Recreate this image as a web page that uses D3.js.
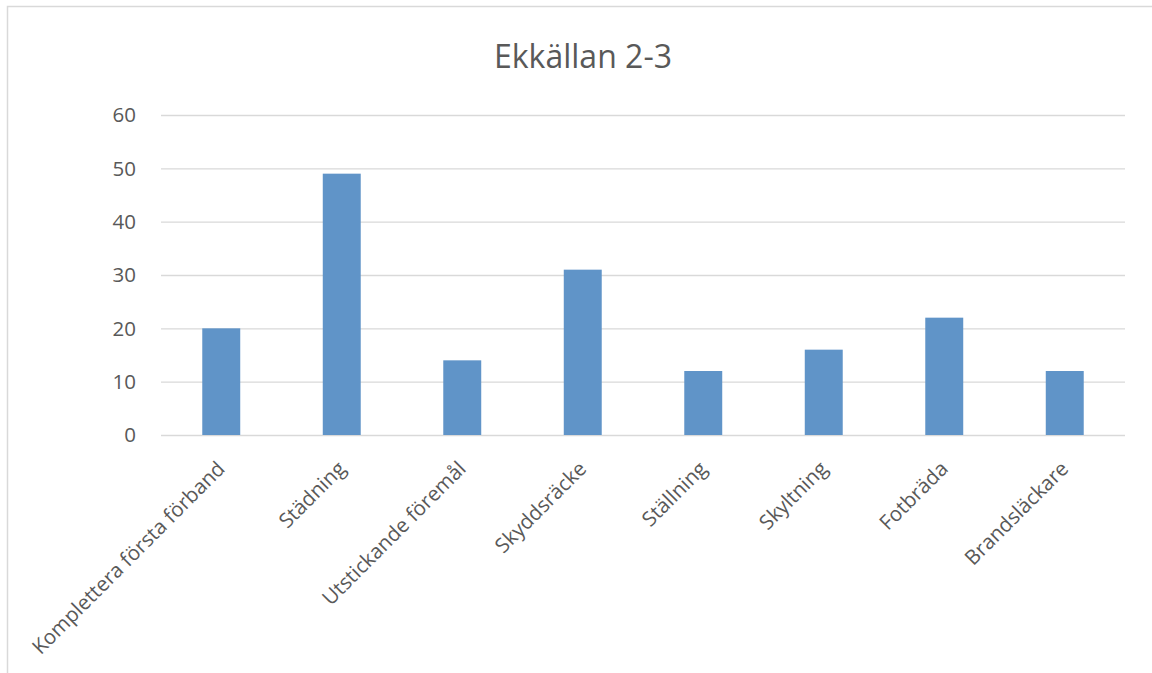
<!DOCTYPE html>
<html><head><meta charset="utf-8">
<script src="https://cdn.jsdelivr.net/npm/d3@7"></script>
<style>body{margin:0;background:#fff;} svg{display:block;font-family:"Open Sans",sans-serif;}</style>
</head><body>
<svg id="c" width="1152" height="673"></svg>
<script>
const title = "Ekkällan 2-3";
const categories = ["Komplettera första förband","Städning","Utstickande föremål","Skyddsräcke","Ställning","Skyltning","Fotbräda","Brandsläckare"];
const values = [20,49,14,31,12,16,22,12];
const yTicks = [0,10,20,30,40,50,60];

const svg = d3.select("#c");
svg.append("rect").attr("x",7.5).attr("y",6.5).attr("width",1170).attr("height",700)
  .attr("fill","#fff").attr("stroke","#d9d9d9").attr("stroke-width",1.5);

const x = d3.scaleBand().domain(categories).range([161,1125]);
const y = d3.scaleLinear().domain([0,60]).range([435,115]);

svg.append("text").attr("x",583).attr("y",68).attr("text-anchor","middle")
  .attr("font-size",32).attr("fill","#595959").text(title);

const yAxis = d3.axisLeft(y).tickValues(yTicks).tickSize(-(1125-161)).tickPadding(25);
const gy = svg.append("g").attr("transform","translate(161,0)").call(yAxis);
gy.select(".domain").remove();
gy.selectAll(".tick line").attr("stroke","#d9d9d9").attr("stroke-width",1.3);
gy.selectAll(".tick text").attr("font-size",20.5).attr("fill","#595959").attr("font-family","Open Sans").attr("dy","0.34em");

const bw = x.bandwidth()*0.315;
svg.append("g").selectAll("rect").data(categories).join("rect")
  .attr("x",(d)=>x(d)+x.bandwidth()/2-bw/2)
  .attr("y",(d,i)=>y(values[i]))
  .attr("width",bw)
  .attr("height",(d,i)=>y(0)-y(values[i]))
  .attr("fill","#6094c8");

svg.append("g").selectAll("text").data(categories).join("text")
  .attr("transform",d=>`translate(${x(d)+x.bandwidth()/2+5},470) rotate(-45)`)
  .attr("text-anchor","end").attr("font-size",20.5).attr("fill","#595959")
  .text(d=>d);
</script>
</body></html>
